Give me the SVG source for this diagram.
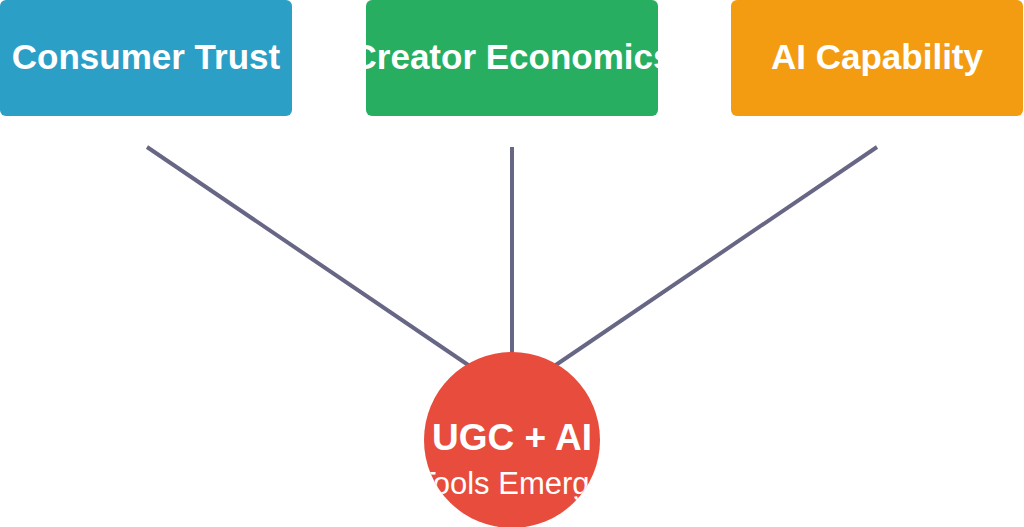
<svg xmlns="http://www.w3.org/2000/svg" width="1024" height="527" viewBox="0 0 1024 527">
  <style>
    .box-text { font-family: "Liberation Sans", Arial, sans-serif; font-weight: bold; font-size: 35px; fill: #ffffff; text-anchor: middle; }
    .hub-title { font-family: "Liberation Sans", Arial, sans-serif; font-weight: bold; font-size: 37px; fill: #ffffff; text-anchor: middle; }
    .hub-sub { font-family: "Liberation Sans", Arial, sans-serif; font-size: 31px; fill: #ffffff; text-anchor: middle; }
    .conn { stroke: #676785; stroke-width: 4; fill: none; }
  </style>
  <defs>
    <clipPath id="clip-trust"><rect x="0" y="0" width="292" height="116" rx="6"/></clipPath>
    <clipPath id="clip-creator"><rect x="366" y="0" width="292" height="116" rx="6"/></clipPath>
    <clipPath id="clip-ai"><rect x="731" y="0" width="292" height="116" rx="6"/></clipPath>
    <clipPath id="clip-hub"><circle cx="512" cy="440" r="88"/></clipPath>
  </defs>
  <rect width="1024" height="527" fill="#ffffff"/>
  <g id="connectors">
    <line class="conn" x1="147" y1="147" x2="480" y2="373"/>
    <line class="conn" x1="512" y1="147" x2="512" y2="360"/>
    <line class="conn" x1="877" y1="147" x2="544" y2="373"/>
  </g>
  <g id="consumer-trust">
    <rect x="0" y="0" width="292" height="116" rx="6" fill="#2b9fc5"/>
    <text class="box-text" x="146" y="69" clip-path="url(#clip-trust)">Consumer Trust</text>
  </g>
  <g id="creator-economics">
    <rect x="366" y="0" width="292" height="116" rx="6" fill="#27ae60"/>
    <text class="box-text" x="512" y="69" clip-path="url(#clip-creator)">Creator Economics</text>
  </g>
  <g id="ai-capability">
    <rect x="731" y="0" width="292" height="116" rx="6" fill="#f39c12"/>
    <text class="box-text" x="877" y="69" clip-path="url(#clip-ai)">AI Capability</text>
  </g>
  <g id="hub">
    <circle cx="512" cy="440" r="88" fill="#e74c3c"/>
    <g clip-path="url(#clip-hub)">
      <text class="hub-title" x="512" y="450">UGC + AI</text>
      <text class="hub-sub" x="512" y="494">Tools Emerge</text>
    </g>
  </g>
</svg>
